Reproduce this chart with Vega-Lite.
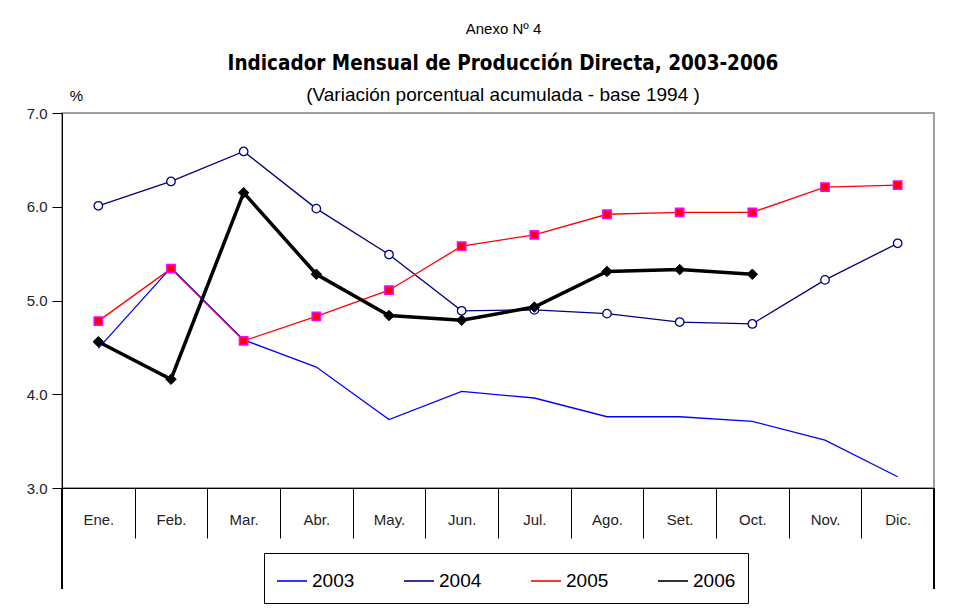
{
  "$schema": "https://vega.github.io/schema/vega-lite/v6.json",
  "width": 872,
  "height": 375,
  "autosize": {"type": "none"},
  "padding": {"left": 62, "top": 113, "right": 42, "bottom": 127},
  "background": "white",
  "title": {
    "text": "Indicador Mensual de Producción Directa, 2003-2006",
    "subtitle": "(Variación porcentual acumulada - base 1994 )",
    "anchor": "middle",
    "frame": "group",
    "dx": 5,
    "offset": -84,
    "font": "DejaVu Sans Condensed, Liberation Sans, sans-serif",
    "fontSize": 20.5,
    "fontWeight": "bold",
    "color": "black",
    "subtitleFont": "Liberation Sans",
    "subtitleFontSize": 19,
    "subtitleColor": "black",
    "subtitlePadding": 12
  },
  "config": {
    "view": {"stroke": "#808080", "strokeWidth": 1.5},
    "font": "Liberation Sans"
  },
  "data": {
    "values": [
      {"m": "Ene.", "year": "2003", "v": 4.49},
      {"m": "Feb.", "year": "2003", "v": 5.35},
      {"m": "Mar.", "year": "2003", "v": 4.58},
      {"m": "Abr.", "year": "2003", "v": 4.29},
      {"m": "May.", "year": "2003", "v": 3.73},
      {"m": "Jun.", "year": "2003", "v": 4.03},
      {"m": "Jul.", "year": "2003", "v": 3.96},
      {"m": "Ago.", "year": "2003", "v": 3.76},
      {"m": "Set.", "year": "2003", "v": 3.76},
      {"m": "Oct.", "year": "2003", "v": 3.71},
      {"m": "Nov.", "year": "2003", "v": 3.51},
      {"m": "Dic.", "year": "2003", "v": 3.12},
      {"m": "Ene.", "year": "2004", "v": 6.01},
      {"m": "Feb.", "year": "2004", "v": 6.27},
      {"m": "Mar.", "year": "2004", "v": 6.59},
      {"m": "Abr.", "year": "2004", "v": 5.98},
      {"m": "May.", "year": "2004", "v": 5.49},
      {"m": "Jun.", "year": "2004", "v": 4.89},
      {"m": "Jul.", "year": "2004", "v": 4.9},
      {"m": "Ago.", "year": "2004", "v": 4.86},
      {"m": "Set.", "year": "2004", "v": 4.77},
      {"m": "Oct.", "year": "2004", "v": 4.75},
      {"m": "Nov.", "year": "2004", "v": 5.22},
      {"m": "Dic.", "year": "2004", "v": 5.61},
      {"m": "Ene.", "year": "2005", "v": 4.78},
      {"m": "Feb.", "year": "2005", "v": 5.34},
      {"m": "Mar.", "year": "2005", "v": 4.57},
      {"m": "Abr.", "year": "2005", "v": 4.83},
      {"m": "May.", "year": "2005", "v": 5.11},
      {"m": "Jun.", "year": "2005", "v": 5.58},
      {"m": "Jul.", "year": "2005", "v": 5.7},
      {"m": "Ago.", "year": "2005", "v": 5.92},
      {"m": "Set.", "year": "2005", "v": 5.94},
      {"m": "Oct.", "year": "2005", "v": 5.94},
      {"m": "Nov.", "year": "2005", "v": 6.21},
      {"m": "Dic.", "year": "2005", "v": 6.23},
      {"m": "Ene.", "year": "2006", "v": 4.56},
      {"m": "Feb.", "year": "2006", "v": 4.16},
      {"m": "Mar.", "year": "2006", "v": 6.15},
      {"m": "Abr.", "year": "2006", "v": 5.28},
      {"m": "May.", "year": "2006", "v": 4.84},
      {"m": "Jun.", "year": "2006", "v": 4.79},
      {"m": "Jul.", "year": "2006", "v": 4.93},
      {"m": "Ago.", "year": "2006", "v": 5.31},
      {"m": "Set.", "year": "2006", "v": 5.33},
      {"m": "Oct.", "year": "2006", "v": 5.28}
    ]
  },
  "encoding": {
    "x": {
      "field": "m",
      "type": "nominal",
      "sort": ["Ene.", "Feb.", "Mar.", "Abr.", "May.", "Jun.", "Jul.", "Ago.", "Set.", "Oct.", "Nov.", "Dic."],
      "scale": {"type": "band", "paddingInner": 0, "paddingOuter": 0, "domain": ["Ene.", "Feb.", "Mar.", "Abr.", "May.", "Jun.", "Jul.", "Ago.", "Set.", "Oct.", "Nov.", "Dic."]},
      "axis": {
        "title": "%",
        "titleX": 14,
        "titleY": -393,
        "titleAngle": 0,
        "titleAlign": "center",
        "titleBaseline": "middle",
        "titleFontWeight": "normal",
        "titleFontSize": 15,
        "titleFont": "Liberation Sans",
        "titleColor": "black",
        "tickBand": "extent",
        "tickSize": 50,
        "tickColor": "black",
        "domainColor": "black",
        "labelPadding": -26,
        "labelFontSize": 15,
        "labelFont": "Liberation Sans",
        "labelColor": "#222222",
        "labelAngle": 0,
        "grid": false
      }
    },
    "y": {
      "field": "v",
      "type": "quantitative",
      "scale": {"domain": [3, 7], "nice": false, "zero": false},
      "axis": {
        "values": [3, 4, 5, 6, 7],
        "format": ".1f",
        "grid": false,
        "domainColor": "black",
        "tickColor": "black",
        "tickSize": 10,
        "labelPadding": 5,
        "labelFontSize": 15,
        "labelFont": "Liberation Sans",
        "labelColor": "#222222",
        "title": "Anexo Nº 4",
        "titleAngle": 0,
        "titleX": 441,
        "titleY": -85,
        "titleAlign": "center",
        "titleBaseline": "middle",
        "titleFontWeight": "normal",
        "titleFontSize": 15,
        "titleFont": "Liberation Sans",
        "titleColor": "black"
      }
    }
  },
  "layer": [
    {
      "transform": [{"filter": "datum.year != '2006'"}],
      "mark": {"type": "line", "strokeWidth": 1.3},
      "encoding": {
        "color": {
          "field": "year",
          "type": "nominal",
          "scale": {"domain": ["2003", "2004", "2005", "2006"], "range": ["#0000FF", "#000080", "#FF0000", "#000000"]},
          "legend": {
            "orient": "none",
            "legendX": 202,
            "legendY": 440,
            "direction": "horizontal",
            "title": null,
            "strokeColor": "black",
            "fillColor": "white",
            "padding": 12,
            "symbolSize": 900,
            "symbolStrokeWidth": 1.6,
            "labelFontSize": 19,
            "labelFont": "Liberation Sans",
            "labelColor": "black",
            "labelOffset": 4,
            "columnPadding": 45
          }
        }
      }
    },
    {
      "transform": [{"filter": "datum.year == '2004'"}],
      "mark": {"type": "point", "shape": "circle", "fill": "white", "stroke": "#000080", "strokeWidth": 1.3, "size": 72, "opacity": 1, "filled": true}
    },
    {
      "transform": [{"filter": "datum.year == '2005'"}],
      "mark": {"type": "point", "shape": "square", "fill": "#FF0000", "stroke": "#FF00FF", "strokeWidth": 1.5, "size": 70, "opacity": 1, "filled": true}
    },
    {
      "transform": [{"filter": "datum.year == '2006'"}],
      "mark": {"type": "line", "color": "black", "strokeWidth": 3.5}
    },
    {
      "transform": [{"filter": "datum.year == '2006'"}],
      "mark": {"type": "point", "shape": "diamond", "fill": "black", "stroke": "black", "strokeWidth": 1, "size": 110, "opacity": 1, "filled": true}
    },
    {
      "mark": {"type": "rule", "color": "black", "strokeWidth": 1},
      "encoding": {
        "x": {"datum": "Ene.", "type": "nominal", "bandPosition": 0},
        "y": {"datum": 3, "type": "quantitative", "scale": {"domain": [3, 7], "nice": false, "zero": false}},
        "y2": {"datum": 1.93}
      }
    },
    {
      "mark": {"type": "rule", "color": "black", "strokeWidth": 1},
      "encoding": {
        "x": {"datum": "Dic.", "type": "nominal", "bandPosition": 1},
        "y": {"datum": 3, "type": "quantitative", "scale": {"domain": [3, 7], "nice": false, "zero": false}},
        "y2": {"datum": 1.93}
      }
    }
  ]
}
